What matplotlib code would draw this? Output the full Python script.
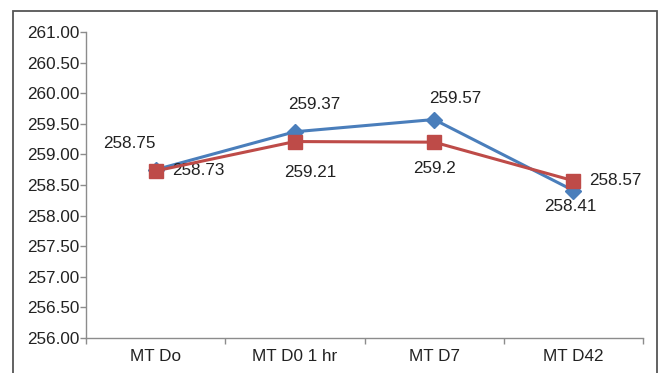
import matplotlib.pyplot as plt
from matplotlib.patches import Rectangle
import numpy as np

# chart data
categories = ['MT Do', 'MT D0 1 hr', 'MT D7', 'MT D42']
blue_values = [258.75, 259.37, 259.57, 258.41]
red_values = [258.73, 259.21, 259.2, 258.57]
blue_labels = ['258.75', '259.37', '259.57', '258.41']
red_labels = ['258.73', '259.21', '259.2', '258.57']
y_ticks = np.arange(256.0, 261.01, 0.5)

# label offsets in pixels (dx, dy)
blue_offsets = [(-26, 26), (19, 27), (21, 21), (-3, -16)]
red_offsets = [(43, 0), (15, -31), (0, -26), (42, 0)]

blue = '#4A7EBB'
red = '#BE4B48'
text_color = '#222222'
axis_color = '#8C8C8C'
font = ['Liberation Sans', 'DejaVu Sans']
fs = 12.3

plt.rcParams['font.family'] = font

fig = plt.figure(figsize=(6.59, 3.73), dpi=100)
ax = fig.add_axes([86 / 659, 1 - 338 / 373, 557 / 659, 306 / 373])

x = np.arange(len(categories))
ax.plot(x, blue_values, color=blue, lw=2.2, marker='D', ms=8,
        mfc=blue, mec=blue, zorder=3)
ax.plot(x, red_values, color=red, lw=2.2, marker='s', ms=9.5,
        mfc=red, mec=red, zorder=4)

for xi, v, lab, off in zip(x, blue_values, blue_labels, blue_offsets):
    ax.annotate(lab, (xi, v), xytext=off, textcoords='offset pixels',
                ha='center', va='center', fontsize=fs, color=text_color)
for xi, v, lab, off in zip(x, red_values, red_labels, red_offsets):
    ax.annotate(lab, (xi, v), xytext=off, textcoords='offset pixels',
                ha='center', va='center', fontsize=fs, color=text_color)

ax.set_xlim(-0.5, len(categories) - 0.5)
ax.set_ylim(256, 261)
ax.set_yticks(y_ticks)
ax.set_yticklabels([f'{t:.2f}' for t in y_ticks])
ax.set_xticks(x)
ax.set_xticklabels(categories)
ax.set_xticks(np.arange(-0.5, len(categories), 1.0), minor=True)

ax.tick_params(axis='y', direction='out', length=4, width=1, color=axis_color,
               labelsize=fs, labelcolor=text_color, pad=1)
ax.tick_params(axis='x', which='major', length=0, labelsize=fs,
               labelcolor=text_color, pad=8)
ax.tick_params(axis='x', which='minor', direction='out', length=4, width=1,
               color=axis_color)

for side in ['top', 'right']:
    ax.spines[side].set_visible(False)
for side in ['left', 'bottom']:
    ax.spines[side].set_color(axis_color)
    ax.spines[side].set_linewidth(1)

# outer chart border
fig.patches.append(Rectangle((13 / 659, -0.05), (657 - 13) / 659, 1.05 - 11 / 373,
                             transform=fig.transFigure, fill=False,
                             edgecolor='#555555', lw=1.3, clip_on=False))

fig.savefig('out.png', dpi=100)
